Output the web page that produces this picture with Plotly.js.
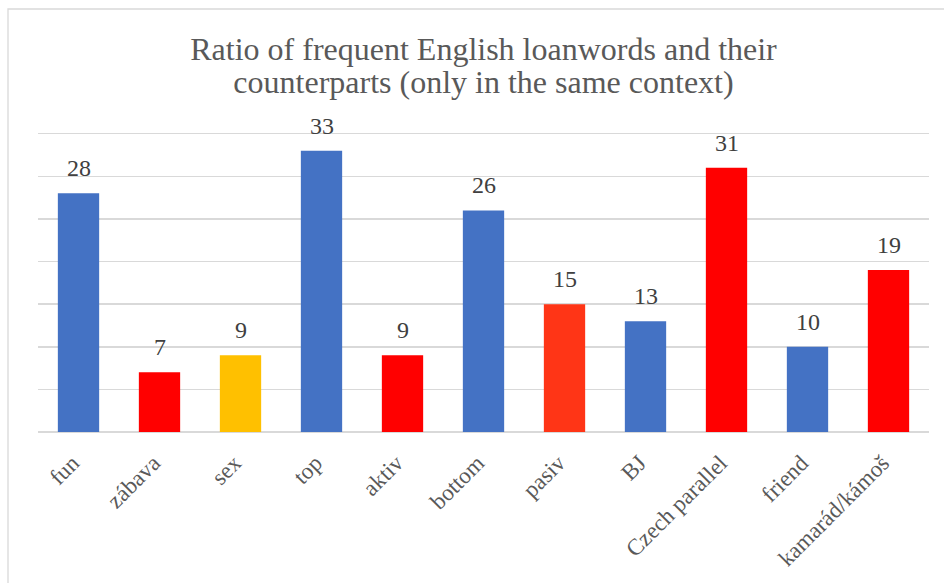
<!DOCTYPE html>
<html>
<head>
<meta charset="utf-8">
<script src="https://cdn.plot.ly/plotly-3.0.1.min.js"></script>
<style>html,body{margin:0;padding:0;background:#fff;}#chart{width:944px;height:583px;}</style>
</head>
<body>
<div id="chart"></div>
<script>
const categories = ['fun','zábava','sex','top','aktiv','bottom','pasiv','BJ','Czech parallel','friend','kamarád/kámoš'];
const values = [28,7,9,33,9,26,15,13,31,10,19];
const barColors = ['#4472C4','#FF0000','#FFC000','#4472C4','#FF0000','#4472C4','#FF3516','#4472C4','#FF0000','#4472C4','#FF0000'];
const titleLines = ['Ratio of frequent English loanwords and their','counterparts (only in the same context)'];

const serif = 'Liberation Serif, Times New Roman, serif';

const trace = {
  type: 'bar',
  x: categories,
  y: values,
  marker: {color: barColors, line: {width: 0}},
  hoverinfo: 'x+y'
};

const labelAnnotations = categories.map((c, i) => ({
  x: c, y: values[i], xref: 'x', yref: 'y',
  text: String(values[i]),
  showarrow: false, yanchor: 'bottom', yshift: 10,
  font: {family: serif, size: 24, color: '#404040'}
}));

const layout = {
  width: 944, height: 583,
  margin: {l: 38, r: 15, t: 132, b: 151, pad: 0},
  paper_bgcolor: '#ffffff', plot_bgcolor: '#ffffff',
  showlegend: false,
  bargap: 0.49,
  font: {family: serif, size: 23, color: '#595959'},
  title: {
    text: titleLines.map(t => '<span style="font-size:32px">' + t + '</span>').join('<br>'),
    font: {family: serif, size: 25.4, color: '#595959'},
    x: 0.5, xref: 'paper', xanchor: 'center',
    y: 1 - 60/583, yref: 'container', yanchor: 'top'
  },
  xaxis: {
    type: 'category',
    tickangle: -45,
    ticklabelstandoff: 12,
    ticklabelshift: -6,
    tickfont: {family: serif, size: 23, color: '#595959'},
    showgrid: false, showline: false, ticks: '', zeroline: false
  },
  yaxis: {
    range: [0, 35.2],
    tick0: 0,
    dtick: 5,
    showticklabels: false,
    showgrid: true, gridcolor: '#d9d9d9', gridwidth: 1.5,
    zeroline: true, zerolinecolor: '#d9d9d9', zerolinewidth: 1.5,
    showline: false, ticks: ''
  },
  annotations: labelAnnotations,
  shapes: [{
    type: 'rect', xref: 'paper', yref: 'paper',
    x0: -30/891, x1: 1.2, y0: -1, y1: 423/300,
    line: {color: '#d9d9d9', width: 1.3}, fillcolor: 'rgba(0,0,0,0)', layer: 'below'
  }]
};

Plotly.newPlot('chart', [trace], layout, {displayModeBar: false, staticPlot: true});
</script>
</body>
</html>
